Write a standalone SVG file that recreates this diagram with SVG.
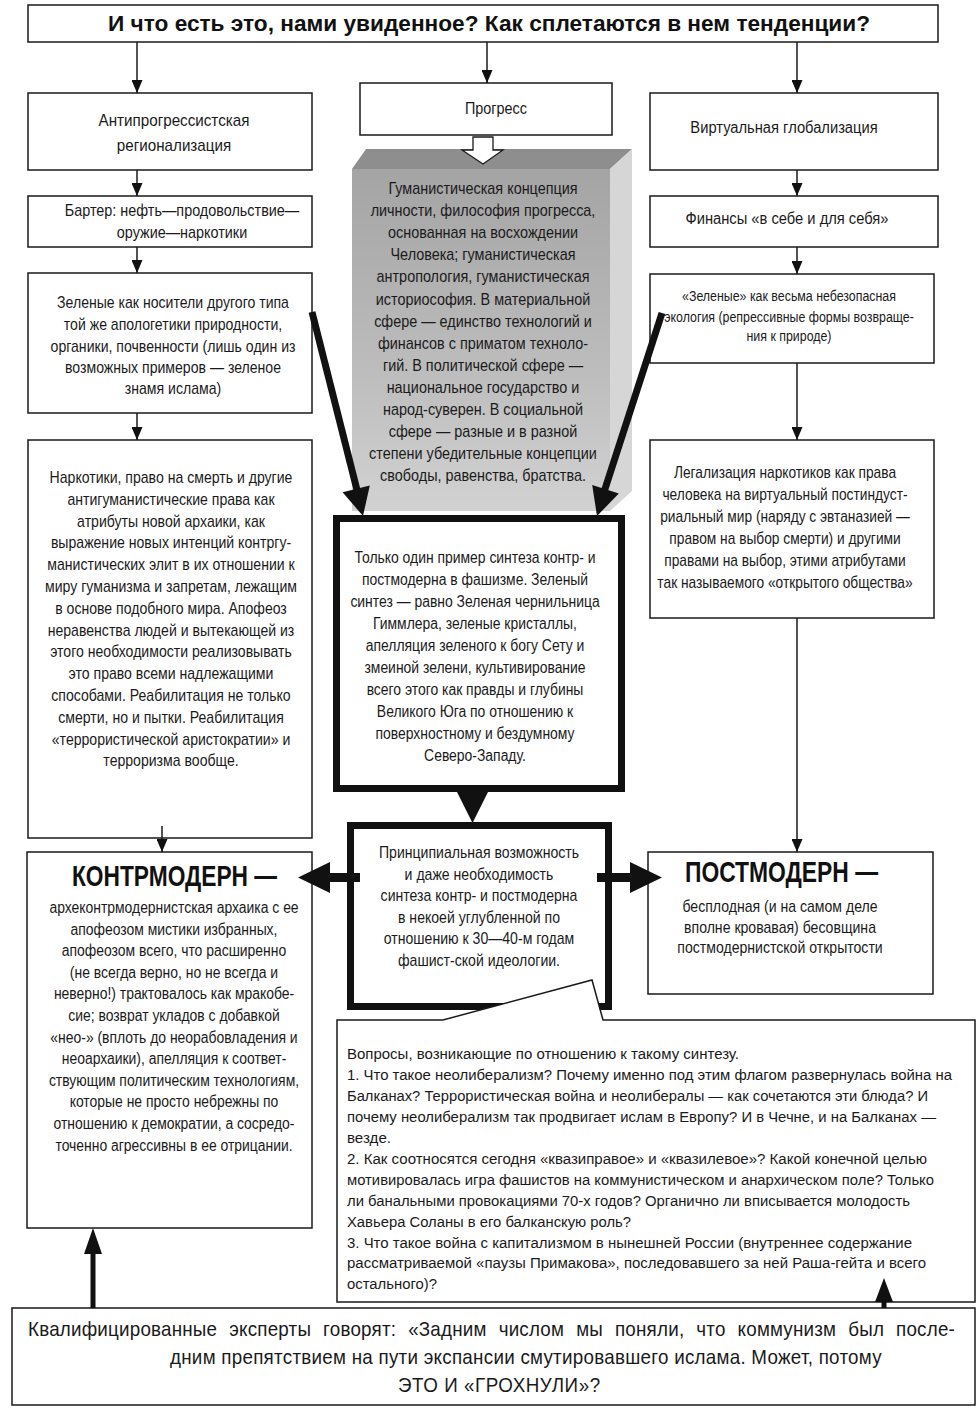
<svg xmlns="http://www.w3.org/2000/svg" width="978" height="1410" viewBox="0 0 978 1410">
<defs>
<style>
.b{fill:#fff;stroke:#1a1a1a;stroke-width:1.5}
.tb{fill:#fff;stroke:#111;stroke-width:7}
.t{font-family:"Liberation Sans",Arial,sans-serif;font-size:16px;fill:#1a1a1a;text-anchor:middle}
.s{font-family:"Liberation Sans",Arial,sans-serif;font-size:15.5px;fill:#1a1a1a;text-anchor:middle}
.q{font-family:"Liberation Sans",Arial,sans-serif;font-size:15.5px;fill:#1a1a1a}
.e{font-family:"Liberation Sans",Arial,sans-serif;font-size:20px;fill:#1a1a1a}
.h{font-family:"Liberation Sans",Arial,sans-serif;font-weight:bold;fill:#111}
.ln{stroke:#1a1a1a;stroke-width:1.5;fill:none}
.fa{fill:#111;stroke:none}
</style>
<marker id="ah" markerUnits="userSpaceOnUse" viewBox="0 0 13 11" markerWidth="13" markerHeight="11" refX="13" refY="5.5" orient="auto">
<path d="M0,0 L13,5.5 L0,11 z" fill="#111"/>
</marker>
<linearGradient id="gf" x1="0" y1="0" x2="0" y2="1">
<stop offset="0" stop-color="#a4a4a4"/>
<stop offset="0.6" stop-color="#bdbdbd"/>
<stop offset="1" stop-color="#d2d2d2"/>
</linearGradient>
</defs>
<rect width="978" height="1410" fill="#fff"/>

<g id="title">
<rect class="b" x="28" y="5" width="910" height="37"/>
<text class="h" x="108" y="31" font-size="22" textLength="762" lengthAdjust="spacingAndGlyphs">И что есть это, нами увиденное? Как сплетаются в нем тенденции?</text>
</g>

<g id="antiprogress">
<rect class="b" x="28" y="93" width="284" height="77"/>
<g transform="translate(174 0) scale(0.95 1)">
<text class="t" y="126">Антипрогрессистская</text>
<text class="t" y="151">регионализация</text>
</g>
</g>

<g id="barter">
<rect class="b" x="28" y="196" width="284" height="51"/>
<g transform="translate(182 0) scale(0.9 1)">
<text class="t" y="216">Бартер: нефть—продовольствие—</text>
<text class="t" y="238">оружие—наркотики</text>
</g>
</g>

<g id="greens-left">
<rect class="b" x="28" y="273" width="284" height="140"/>
<g transform="translate(173 0) scale(0.88 1)">
<text class="t" y="308">Зеленые как носители другого типа</text>
<text class="t" y="330">той же апологетики природности,</text>
<text class="t" y="352">органики, почвенности (лишь один из</text>
<text class="t" y="373">возможных примеров — зеленое</text>
<text class="t" y="394">знамя ислама)</text>
</g>
</g>

<g id="narcotics-left">
<rect class="b" x="28" y="440" width="284" height="398"/>
<g transform="translate(171 0) scale(0.88 1)">
<text class="t" y="483">Наркотики, право на смерть и другие</text>
<text class="t" y="505">антигуманистические права как</text>
<text class="t" y="527">атрибуты новой архаики, как</text>
<text class="t" y="548">выражение новых интенций контргу-</text>
<text class="t" y="570">манистических элит в их отношении к</text>
<text class="t" y="592">миру гуманизма и запретам, лежащим</text>
<text class="t" y="614">в основе подобного мира. Апофеоз</text>
<text class="t" y="636">неравенства людей и вытекающей из</text>
<text class="t" y="657">этого необходимости реализовывать</text>
<text class="t" y="679">это право всеми надлежащими</text>
<text class="t" y="701">способами. Реабилитация не только</text>
<text class="t" y="723">смерти, но и пытки. Реабилитация</text>
<text class="t" y="745">«террористической аристократии» и</text>
<text class="t" y="766">терроризма вообще.</text>
</g>
</g>

<g id="kontrmodern">
<rect class="b" x="27" y="852" width="285" height="376"/>
<text class="h" x="72" y="886" font-size="30" textLength="205" lengthAdjust="spacingAndGlyphs">КОНТРМОДЕРН —</text>
<g transform="translate(174 0) scale(0.87 1)">
<text class="t" y="913">археконтрмодернистская архаика с ее</text>
<text class="t" y="935">апофеозом мистики избранных,</text>
<text class="t" y="956">апофеозом всего, что расширенно</text>
<text class="t" y="978">(не всегда верно, но не всегда и</text>
<text class="t" y="999">неверно!) трактовалось как мракобе-</text>
<text class="t" y="1021">сие; возврат укладов с добавкой</text>
<text class="t" y="1043">«нео-» (вплоть до неорабовладения и</text>
<text class="t" y="1064">неоархаики), апелляция к соответ-</text>
<text class="t" y="1086">ствующим политическим технологиям,</text>
<text class="t" y="1107">которые не просто небрежны по</text>
<text class="t" y="1129">отношению к демократии, а сосредо-</text>
<text class="t" y="1151">точенно агрессивны в ее отрицании.</text>
</g>
</g>

<g id="progress">
<rect class="b" x="360" y="83" width="252" height="52"/>
<g transform="translate(496 0) scale(0.9 1)">
<text class="t" y="114">Прогресс</text>
</g>
</g>

<g id="humanism">
<polygon points="352,169 366,149 632,149 610,169" fill="#8e8e8e"/>
<polygon points="610,169 632,149 632,491 610,511" fill="#d6d6d6"/>
<rect x="352" y="169" width="258" height="342" fill="url(#gf)"/>
<g transform="translate(483 0) scale(0.9 1)">
<text class="t" y="194">Гуманистическая концепция</text>
<text class="t" y="216">личности, философия прогресса,</text>
<text class="t" y="238">основанная на восхождении</text>
<text class="t" y="260">Человека; гуманистическая</text>
<text class="t" y="282">антропология, гуманистическая</text>
<text class="t" y="305">историософия. В материальной</text>
<text class="t" y="327">сфере — единство технологий и</text>
<text class="t" y="349">финансов с приматом техноло-</text>
<text class="t" y="371">гий. В политической сфере —</text>
<text class="t" y="393">национальное государство и</text>
<text class="t" y="415">народ-суверен. В социальной</text>
<text class="t" y="437">сфере — разные и в разной</text>
<text class="t" y="459">степени убедительные концепции</text>
<text class="t" y="481">свободы, равенства,  братства.</text>
</g>
</g>

<g id="fascism-synthesis">
<rect class="tb" x="336.5" y="518.5" width="285" height="270"/>
<g transform="translate(475 0) scale(0.87 1)">
<text class="t" y="563">Только один пример синтеза контр- и</text>
<text class="t" y="585">постмодерна в фашизме. Зеленый</text>
<text class="t" y="607">синтез — равно Зеленая чернильница</text>
<text class="t" y="629">Гиммлера, зеленые кристаллы,</text>
<text class="t" y="651">апелляция зеленого к богу Сету и</text>
<text class="t" y="673">змеиной зелени, культивирование</text>
<text class="t" y="695">всего этого как правды и глубины</text>
<text class="t" y="717">Великого Юга по отношению к</text>
<text class="t" y="739">поверхностному и бездумному</text>
<text class="t" y="761">Северо-Западу.</text>
</g>
</g>

<g id="possibility">
<rect class="tb" x="350.5" y="825.5" width="258" height="181"/>
<g transform="translate(479 0) scale(0.88 1)">
<text class="t" y="858">Принципиальная возможность</text>
<text class="t" y="880">и даже необходимость</text>
<text class="t" y="901">синтеза контр- и постмодерна</text>
<text class="t" y="923">в некоей углубленной по</text>
<text class="t" y="944">отношению к 30—40-м годам</text>
<text class="t" y="966">фашист-ской идеологии.</text>
</g>
</g>

<g id="virtual">
<rect class="b" x="650" y="93" width="288" height="77"/>
<g transform="translate(784 0) scale(0.92 1)">
<text class="t" y="133">Виртуальная глобализация</text>
</g>
</g>

<g id="finance">
<rect class="b" x="650" y="196" width="288" height="51"/>
<g transform="translate(787 0) scale(0.92 1)">
<text class="t" y="224">Финансы «в себе и для себя»</text>
</g>
</g>

<g id="greens-right">
<rect class="b" x="650" y="274" width="284" height="89"/>
<g transform="translate(789 0) scale(0.8 1)">
<text class="s" y="301">«Зеленые» как весьма небезопасная</text>
<text class="s" y="322">экология (репрессивные формы возвраще-</text>
<text class="s" y="341">ния к природе)</text>
</g>
</g>

<g id="legalization">
<rect class="b" x="650" y="440" width="284" height="178"/>
<g transform="translate(785 0) scale(0.86 1)">
<text class="t" y="478">Легализация наркотиков как права</text>
<text class="t" y="500">человека на виртуальный постиндуст-</text>
<text class="t" y="522">риальный мир (наряду с эвтаназией —</text>
<text class="t" y="544">правом на выбор смерти) и другими</text>
<text class="t" y="566">правами на выбор, этими атрибутами</text>
<text class="t" y="588">так называемого «открытого общества»</text>
</g>
</g>

<g id="postmodern">
<rect class="b" x="648" y="852" width="285" height="142"/>
<text class="h" x="685" y="882" font-size="30" textLength="193" lengthAdjust="spacingAndGlyphs">ПОСТМОДЕРН —</text>
<g transform="translate(780 0) scale(0.88 1)">
<text class="t" y="912">бесплодная (и на самом деле</text>
<text class="t" y="933">вполне кровавая) бесовщина</text>
<text class="t" y="953">постмодернистской открытости</text>
</g>
</g>

<g id="questions">
<path class="b" d="M337,1020 L443,1020 L592,980 L603,1020 L975,1020 L975,1302 L337,1302 Z"/>
<text class="q" x="347" y="1059" textLength="392" lengthAdjust="spacingAndGlyphs">Вопросы, возникающие по отношению к такому синтезу.</text>
<text class="q" x="347" y="1080" textLength="605" lengthAdjust="spacingAndGlyphs">1. Что такое неолиберализм? Почему именно под этим флагом развернулась война на</text>
<text class="q" x="347" y="1101" textLength="581" lengthAdjust="spacingAndGlyphs">Балканах? Террористическая война и неолибералы — как сочетаются эти блюда? И</text>
<text class="q" x="347" y="1122" textLength="589" lengthAdjust="spacingAndGlyphs">почему неолиберализм так продвигает ислам в Европу? И в Чечне, и на Балканах —</text>
<text class="q" x="347" y="1143" textLength="44" lengthAdjust="spacingAndGlyphs">везде.</text>
<text class="q" x="347" y="1164" textLength="580" lengthAdjust="spacingAndGlyphs">2. Как соотносятся сегодня «квазиправое» и «квазилевое»? Какой конечной целью</text>
<text class="q" x="347" y="1185" textLength="587" lengthAdjust="spacingAndGlyphs">мотивировалась игра фашистов на коммунистическом и анархическом поле? Только</text>
<text class="q" x="347" y="1206" textLength="563" lengthAdjust="spacingAndGlyphs">ли банальными провокациями 70-х годов? Органично ли вписывается молодость</text>
<text class="q" x="347" y="1227" textLength="284" lengthAdjust="spacingAndGlyphs">Хавьера Соланы в его балканскую роль?</text>
<text class="q" x="347" y="1248" textLength="565" lengthAdjust="spacingAndGlyphs">3. Что такое война с капитализмом в нынешней России (внутреннее содержание</text>
<text class="q" x="347" y="1268" textLength="579" lengthAdjust="spacingAndGlyphs">рассматриваемой «паузы Примакова», последовавшего за ней Раша-гейта и всего</text>
<text class="q" x="347" y="1289" textLength="90" lengthAdjust="spacingAndGlyphs">остального)?</text>
</g>

<g id="experts">
<rect class="b" x="12" y="1308" width="963" height="97"/>
<g transform="translate(28 0) scale(0.94 1)">
<text class="e" x="0" y="1336" word-spacing="7" textLength="986" lengthAdjust="spacing">Квалифицированные эксперты говорят: «Задним числом мы поняли, что коммунизм был после-</text>
</g>
<g transform="translate(170 0) scale(0.94 1)">
<text class="e" x="0" y="1364" textLength="757" lengthAdjust="spacing">дним препятствием на пути экспансии смутировавшего ислама. Может, потому</text>
</g>
<g transform="translate(398 0) scale(0.94 1)">
<text class="e" x="0" y="1392" textLength="215" lengthAdjust="spacing">ЭТО И «ГРОХНУЛИ»?</text>
</g>
</g>

<g id="connectors">
<line class="ln" x1="137" y1="42" x2="137" y2="93" marker-end="url(#ah)"/>
<line class="ln" x1="487" y1="42" x2="487" y2="83" marker-end="url(#ah)"/>
<line class="ln" x1="797" y1="42" x2="797" y2="93" marker-end="url(#ah)"/>
<line class="ln" x1="137" y1="170" x2="137" y2="196" marker-end="url(#ah)"/>
<line class="ln" x1="137" y1="247" x2="137" y2="273" marker-end="url(#ah)"/>
<line class="ln" x1="137" y1="413" x2="137" y2="440" marker-end="url(#ah)"/>
<line class="ln" x1="162" y1="826" x2="162" y2="852" marker-end="url(#ah)"/>
<line class="ln" x1="797" y1="170" x2="797" y2="196" marker-end="url(#ah)"/>
<line class="ln" x1="797" y1="247" x2="797" y2="274" marker-end="url(#ah)"/>
<line class="ln" x1="797" y1="363" x2="797" y2="440" marker-end="url(#ah)"/>
<line class="ln" x1="797" y1="618" x2="797" y2="852" marker-end="url(#ah)"/>
<polygon points="473,137 493,137 493,150 503,150 483,164 462,150 473,150" fill="#fff" stroke="#1a1a1a" stroke-width="1.3"/>
<line x1="312" y1="312" x2="357" y2="490" stroke="#111" stroke-width="7"/>
<polygon class="fa" points="342.6,492.2 369.8,485.4 363,516"/>
<line x1="662" y1="313" x2="604" y2="492" stroke="#111" stroke-width="7"/>
<polygon class="fa" points="592.2,485 618.8,493.6 597,516"/>
<polygon class="fa" points="457,792 488,792 472.5,823"/>
<rect class="fa" x="328" y="873" width="32" height="9"/>
<polygon class="fa" points="330,862 330,893 298,877.5"/>
<rect class="fa" x="597" y="873" width="35" height="9"/>
<polygon class="fa" points="630,862 630,893 662,877.5"/>
<rect class="fa" x="90.5" y="1252" width="5" height="56"/>
<polygon class="fa" points="84,1254 102,1254 93,1228"/>
<rect class="fa" x="881.5" y="1298" width="5" height="10"/>
<polygon class="fa" points="875,1302 893,1302 884,1278"/>
</g>
</svg>
